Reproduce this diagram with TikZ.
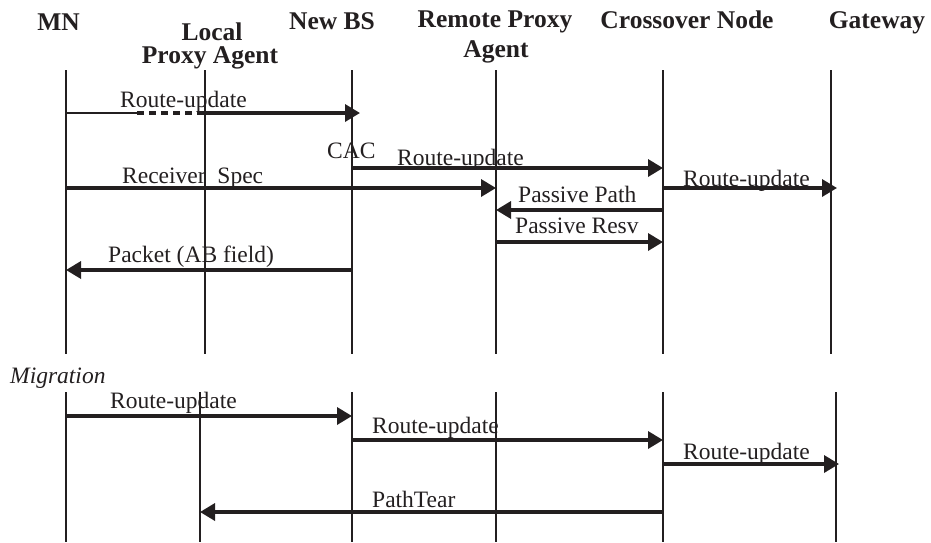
\documentclass[tikz,border=0pt]{standalone}
\usepackage{fontspec}
\setmainfont{Liberation Serif}
\usetikzlibrary{arrows.meta}
\definecolor{ink}{HTML}{231F20}
\begin{document}
\begin{tikzpicture}[x=1pt,y=-1pt,
  life/.style={line width=1.2pt, draw=ink},
  msg/.style={line width=3.4pt, draw=ink, -{Triangle[length=15pt,width=17pt]}},
  thinmsg/.style={line width=1.2pt, draw=ink},
  dashmsg/.style={line width=3.4pt, draw=ink, dash pattern=on 7pt off 5pt},
  head/.style={font=\fontsize{25.5}{28}\selectfont\bfseries, text=ink, inner sep=0pt, anchor=base},
  lbl/.style={font=\fontsize{23.5}{26}\selectfont, text=ink, inner sep=0pt, anchor=base west},
]
\useasboundingbox (0,0) rectangle (931,542);
\fill[white] (0,0) rectangle (931,542);

% headers
\node[head] (hMN) at (58.5,30) {MN};
\node[head] (hLP1) at (212,40) {Local};
\node[head] (hLP2) at (210,63) {Proxy Agent};
\node[head] (hBS) at (332,29) {New BS};
\node[head] (hRP1) at (495,27) {Remote Proxy};
\node[head] (hRP2) at (496,57) {Agent};
\node[head] (hCO) at (687,28) {Crossover Node};
\node[head] (hGW) at (877,28) {Gateway};

% lifelines, upper part
\foreach \n/\x in {mn/66, lp/205, bs/352, rp/496, co/663, gw/831} {
  \coordinate (\n1a) at (\x,70);
  \coordinate (\n1b) at (\x,354);
  \draw[life] (\n1a) -- (\n1b);
}
% lifelines, lower part
\foreach \n/\x in {mn/66, lp/200, bs/352, rp/496, co/663, gw/836} {
  \coordinate (\n2a) at (\x,392);
  \coordinate (\n2b) at (\x,542);
  \draw[life] (\n2a) -- (\n2b);
}

% message 1: Route-update MN -> New BS (thin, dashed, thick)
\coordinate (m1a) at (137,113);
\coordinate (m1b) at (360,113);
\draw[thinmsg] (mn1a |- m1a) -- (m1a);
\draw[dashmsg] (m1a) -- (lp1a |- m1a);
\draw[msg] (lp1a |- m1a) -- (m1b);
\node[lbl] (l1) at (120,107) {Route-update};
\node[lbl] (lCAC) at (327,158) {CAC};

% message 2: Route-update New BS -> Crossover
\draw[msg] (bs1a |- 0,168) -- (co1a |- 0,168);
\node[lbl] (l2) at (397,165) {Route-update};

% message 3: Receiver Spec MN -> Remote Proxy
\draw[msg] (mn1a |- 0,188) -- (rp1a |- 0,188);
\node[lbl] (l3) at (122,183) {Receiver\ \ Spec};

% message 4: Route-update Crossover -> Gateway
\coordinate (m4b) at (837,188);
\draw[msg] (co1a |- m4b) -- (m4b);
\node[lbl] (l4) at (683,186) {Route-update};

% message 5: Passive Path Crossover -> Remote Proxy
\draw[msg] (co1a |- 0,210) -- (rp1a |- 0,210);
\node[lbl] (l5) at (518,202) {Passive Path};

% message 6: Passive Resv Remote Proxy -> Crossover
\draw[msg] (rp1a |- 0,242) -- (co1a |- 0,242);
\node[lbl] (l6) at (515,233) {Passive Resv};

% message 7: Packet (AB field) New BS -> MN
\draw[msg] (bs1a |- 0,270) -- (mn1a |- 0,270);
\node[lbl] (l7) at (108,262) {Packet (AB field)};

% migration
\node[lbl, font=\fontsize{23.5}{26}\selectfont\itshape] (lMig) at (10,383) {Migration};

% message 8: Route-update MN -> New BS
\draw[msg] (mn2a |- 0,416) -- (bs2a |- 0,416);
\node[lbl] (l8) at (110,408) {Route-update};

% message 9: Route-update New BS -> Crossover
\draw[msg] (bs2a |- 0,440) -- (co2a |- 0,440);
\node[lbl] (l9) at (372,433) {Route-update};

% message 10: Route-update Crossover -> Gateway
\coordinate (m10b) at (839,464);
\draw[msg] (co2a |- m10b) -- (m10b);
\node[lbl] (l10) at (683,459) {Route-update};

% message 11: PathTear Crossover -> Local Proxy
\draw[msg] (co2a |- 0,512) -- (lp2a |- 0,512);
\node[lbl] (l11) at (372,507) {PathTear};
\end{tikzpicture}
\end{document}
